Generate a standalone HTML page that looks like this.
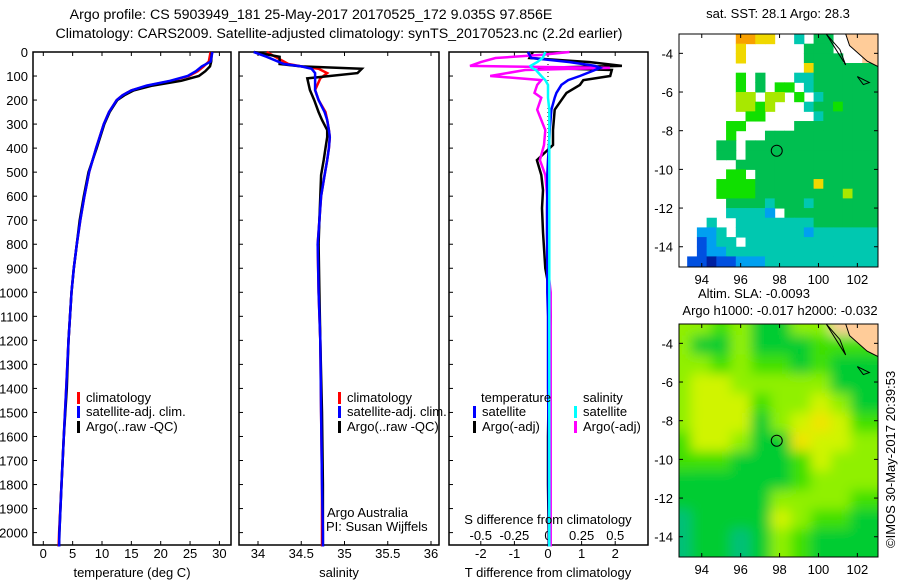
<!DOCTYPE html>
<html><head><meta charset="utf-8"><style>
body{margin:0;background:#fff;width:900px;height:580px;overflow:hidden}
svg{font-family:"Liberation Sans",sans-serif;font-size:13px}
</style></head><body>
<svg id="c" width="900" height="580" xmlns="http://www.w3.org/2000/svg">
<text x="311" y="19" text-anchor="middle" style="font-size:14.2px">Argo profile: CS 5903949_181 25-May-2017 20170525_172 9.035S 97.856E</text>
<text x="339" y="38" text-anchor="middle" style="font-size:14.2px">Climatology: CARS2009. Satellite-adjusted climatology: synTS_20170523.nc (2.2d earlier)</text>
<g id="g"></g>
<text x="778" y="18" text-anchor="middle">sat. SST: 28.1 Argo: 28.3</text>
<text x="754" y="298" text-anchor="middle">Altim. SLA: -0.0093</text>
<text x="780" y="315" text-anchor="middle">Argo h1000: -0.017 h2000: -0.032</text>
<text transform="translate(895,548) rotate(-90)">©IMOS 30-May-2017 20:39:53</text>
</svg>
<script>
// ---- data ----
const depthTicks=[0,100,200,300,400,500,600,700,800,900,1000,1100,1200,1300,1400,1500,1600,1700,1800,1900,2000];
const tempTicks=[0,5,10,15,20,25,30];
const salTicks=[34,34.5,35,35.5,36];
const salTickLabels=["34","34.5","35","35.5","36"];
const dTTicks=[-2,-1,0,1,2];
const dSTicks=[-0.5,-0.25,0,0.25,0.5];
const dSTickLabels=["-0.5","-0.25","0","0.25","0.5"];
const climTempDepth=[0,40,60,80,100,120,140,160,180,200,250,300,400,500,600,700,800,900,1000,1200,1400,1600,1800,2000,2058];
const climTemp=[28.5,28.2,27.3,26.3,24.8,21.8,17.8,15,13.5,12.5,11.2,10.3,9,7.8,7,6.3,5.7,5.2,4.8,4.3,3.9,3.5,3.1,2.7,2.6];
const satTemp=[28.8,28.5,27.0,26.0,24.6,21.6,17.6,15,13.5,12.5,11.2,10.3,9,7.8,7,6.3,5.7,5.2,4.8,4.3,3.9,3.5,3.1,2.75,2.7];
const argoTemp=[28.7,28.6,28.4,27.6,26.5,23.5,18.6,15.4,13.8,12.6,11.3,10.4,9.1,7.7,6.9,6.2,5.7,5.2,4.8,4.3,4.0,3.5,3.1,2.75,2.7];
const salDepth=[0,20,50,60,70,88,110,158,200,250,283,325,354,400,450,512,600,700,800,1000,1200,1500,1800,2000,2058];
const climSal=[34.1,34.2,34.35,34.5,34.7,34.8,34.72,34.66,34.7,34.78,34.8,34.82,34.83,34.82,34.8,34.77,34.73,34.71,34.69,34.7,34.72,34.73,34.74,34.74,34.74];
const satSal=[33.95,34.1,34.3,34.5,34.62,34.66,34.66,34.66,34.7,34.77,34.8,34.82,34.83,34.82,34.8,34.77,34.73,34.71,34.69,34.7,34.72,34.73,34.74,34.75,34.75];
const argoSal=[33.95,34.25,34.25,34.5,35.2,35.15,34.57,34.6,34.65,34.7,34.74,34.8,34.8,34.78,34.76,34.73,34.72,34.71,34.7,34.71,34.72,34.74,34.75,34.75,34.75];
const diffDepth=[0,12,25,42,58,66,75,100,117,137,170,190,240,325,387,450,512,575,650,750,900,1000,1100,1200,1400,1600,1800,2000,2058];
const argoDT=[-0.45,-0.5,-0.55,1.25,2.2,-0.3,1.9,1.85,1.05,0.95,0.55,0.45,0.2,0.15,0.15,-0.33,-0.2,-0.15,-0.18,-0.15,-0.08,0.05,0.08,0.05,0.02,0.0,0.0,0.02,0.02];
const satDT=[-0.6,-0.55,-0.5,0.65,1.4,1.55,1.4,0.95,0.6,0.4,0.25,0.2,0.1,0.05,0.03,0.0,-0.02,-0.02,-0.03,-0.03,-0.02,-0.02,0.0,0.0,0.0,0.02,0.02,0.03,0.03];
const argoDS=[0.16,-0.05,-0.39,-0.5,-0.58,0.46,-0.17,-0.43,-0.05,-0.08,-0.1,-0.05,-0.08,-0.02,-0.03,-0.06,-0.02,-0.01,0.0,0.0,0.0,0.02,0.02,0.02,0.02,0.02,0.02,0.02,0.02];
const satDS=[-0.02,-0.03,-0.04,-0.08,-0.13,-0.12,-0.09,-0.05,-0.02,0.0,0.0,0.0,0.01,0.01,0.01,0.01,0.01,0.01,0.01,0.01,0.01,0.01,0.01,0.01,0.01,0.01,0.01,0.01,0.01];
const latTicks=[-4,-6,-8,-10,-12,-14];
const lonTicks=[94,96,98,100,102];
const sstGrid=["......9988..4.55..LLL","......8......555...LL","......8......5555..LL",".............85555555","......6.5...445555555","......6.5.66.45555555","......77.77.6.4555555","......7767...45565555",".......66.....4555555",".....66.....555555555",".....6...555555555555","....55.55555555555555","....55.55555555555555","......555555555555555",".....66.5555555555555","....66665555558555555","....66665555555557555",".....5555455545555555",".....44443.5555555555","...4..444444445555555","..334.444444434444444","..2344.44444444444444","..2334444444444444444",".22122333444444444444"];
const slaGrid=["77675577LL","7557555666","7767665655","7887777755","7888677875","7888578986","6887559887","6665556877","5555556777","5555577776","4555587665","4554576555"];
const floatLon=97.856, floatLat=-9.035;
// ---- helpers ----
const NS="http://www.w3.org/2000/svg";
const G=document.getElementById('g');
function mk(t,a,p){const e=document.createElementNS(NS,t);for(const k in a)e.setAttribute(k,a[k]);(p||G).appendChild(e);return e;}
const Y0=52,YS=0.2403;
const yD=d=>Y0+d*YS;
const xT=t=>43.3+t*5.87;
const xS=s=>258+(s-34)*86.5;
const xdT=t=>548+t*33.6;
const xdS=s=>548+s*134.5;
function box(x1,x2,name){
  const r=mk('rect',{x:x1,y:52,width:x2-x1,height:493,fill:'none',stroke:'#000','stroke-width':1.5});
  
  depthTicks.forEach(d=>{const l=mk('line',{x1:x1,x2:x1+4,y1:yD(d),y2:yD(d),stroke:'#000'});});
}
function xticks(vals,labs,f,x1,name,labelY){
  vals.forEach((v,i)=>{const x=f(v);
    const a=mk('line',{x1:x,x2:x,y1:545,y2:541,stroke:'#000'});
    const b=mk('line',{x1:x,x2:x,y1:52,y2:56,stroke:'#000'});
    const t=mk('text',{x:x,y:labelY,'text-anchor':'middle'});t.textContent=labs[i];});
}
function line(xs,ds,fx,col,name,w){
  const pts=xs.map((v,i)=>fx(v).toFixed(1)+','+yD(ds[i]).toFixed(1)).join(' ');
  const p=mk('polyline',{points:pts,fill:'none',stroke:col,'stroke-width':w||2.5,'stroke-linejoin':'miter'});
  
}
function txt(x,y,s,name,anchor){const t=mk('text',{x:x,y:y,'text-anchor':anchor||'start'});t.textContent=s;return t;}
function leg(x,y,col,s,name){const r=mk('rect',{x:x,y:y-10,width:3,height:12,fill:col});txt(x+9,y,s,name);}
depthTicks.forEach(d=>txt(28,yD(d)+5,String(d),'depth-tick-label','end'));
// panel 1
box(33,231,'temperature-panel');
xticks(tempTicks,tempTicks.map(String),xT,33,'temperature-axis',558);
line(climTemp,climTempDepth,xT,'#f00','climatology-temperature-line');
line(argoTemp,climTempDepth,xT,'#000','argo-temperature-line');
line(satTemp,climTempDepth,xT,'#00f','satellite-temperature-line');
txt(132,577,'temperature (deg C)','temperature-axis-title','middle');
leg(77,402,'#f00','climatology','legend-climatology');
leg(77,416,'#00f','satellite-adj. clim.','legend-satellite');
leg(77,431,'#000','Argo(..raw -QC)','legend-argo');
// panel 2
box(239,439,'salinity-panel');
xticks(salTicks,salTickLabels,xS,239,'salinity-axis',558);
line(climSal,salDepth,xS,'#f00','climatology-salinity-line');
line(argoSal,salDepth,xS,'#000','argo-salinity-line');
line(satSal,salDepth,xS,'#00f','satellite-salinity-line');
txt(339,577,'salinity','salinity-axis-title','middle');
leg(338,402,'#f00','climatology','legend-climatology-s');
leg(338,416,'#00f','satellite-adj. clim.','legend-satellite-s');
leg(338,431,'#000','Argo(..raw -QC)','legend-argo-s');
txt(327,517,'Argo Australia','argo-australia-label');
txt(326,531,'PI: Susan Wijffels','pi-label');
// panel 3
box(449,648,'difference-panel');
xticks(dTTicks,dTTicks.map(String),xdT,449,'t-difference-axis',558);
dSTicks.forEach((v,i)=>txt(xdS(v),540,dSTickLabels[i],'s-difference-tick-label','middle'));
const z=mk('line',{x1:548,x2:548,y1:52,y2:545,stroke:'#000','stroke-dasharray':'1,3'});
line(argoDT,diffDepth,xdT,'#000','argo-t-difference-line');
line(argoDS,diffDepth,xdS,'#f0f','argo-s-difference-line');
line(satDT,diffDepth,xdT,'#00f','satellite-t-difference-line');
line(satDS,diffDepth,xdS,'#0ff','satellite-s-difference-line');
txt(548,524,'S difference from climatology','s-difference-title','middle');
txt(548,577,'T difference from climatology','t-difference-title','middle');
txt(481,402,'temperature','legend-temperature-heading');
leg(473,416,'#00f','satellite','legend-t-satellite');
leg(473,431,'#000','Argo(-adj)','legend-t-argo');
txt(583,402,'salinity','legend-salinity-heading');
leg(574,416,'#0ff','satellite','legend-s-satellite');
leg(574,431,'#f0f','Argo(-adj)','legend-s-argo');
// maps
const sstCol={'1':'#0020a0','2':'#0050e0','3':'#00a0f0','4':'#00c8b0','5':'#00bf50','6':'#10e000','7':'#a8e800','8':'#f0d800','9':'#f8a000','L':'#ffcc99'};
const slaCol={'4':'#00c078','5':'#00cc30','6':'#40e000','7':'#90f000','8':'#d0f400','9':'#f0e400','L':'#ffcc99'};
const lonX=lon=>679+(lon-92.83)*19.45;
function map(top,grid,cols,name,blur,lon0,step,latStep){
  const latY=lat=>top+(-3-lat)*19.34;
  const cp=mk('clipPath',{id:'cp'+name});mk('rect',{x:679,y:top,width:199,height:233},cp);
  const gg=mk('g',{'clip-path':'url(#cp'+name+')'});
  const gi=mk('g',blur?{filter:'url(#bl)'}:{},gg);
  const pad=blur?8:0;
  grid.forEach((row,r)=>{for(let c=0;c<row.length;c++){const ch=row[c];if(ch==='.')continue;
    const x1=lonX(lon0+c*step),x2=lonX(lon0+(c+1)*step);
    const y1=latY(-3-r*latStep),y2=latY(-3-(r+1)*latStep);
    const ex=(c===row.length-1?20:0),sx=(c===0?20:0),ey=(r===grid.length-1?20:0),sy=(r===0?20:0);
    const e=mk('rect',{x:x1-pad-sx,y:y1-pad-sy,width:x2-x1+2*pad+0.5+ex+sx,height:y2-y1+2*pad+0.5+ey+sy,fill:cols[ch]},gi);
    }});
  const land=mk('polygon',{points:`${lonX(101.4)},${top} ${lonX(103.1)},${top} ${lonX(103.1)},${latY(-4.7)} ${lonX(102.5)},${latY(-4.4)} ${lonX(101.6)},${latY(-3.6)}`,fill:'#ffcc99',stroke:'#000'},gg);
  
  const isl=mk('path',{d:`M${lonX(100.4)},${top} L${lonX(101.4)},${latY(-4.6)} L${lonX(101.1)},${latY(-3.8)} Z M${lonX(102)},${latY(-5.2)} l12,6 l-6,2 Z`,fill:'none',stroke:'#000'},gg);
  
  const b=mk('rect',{x:679,y:top,width:199,height:233,fill:'none',stroke:'#000'});
  const ci=mk('circle',{cx:lonX(floatLon),cy:latY(floatLat),r:5.5,fill:'none',stroke:'#000'});
  latTicks.forEach(l=>{mk('line',{x1:679,x2:683,y1:latY(l),y2:latY(l),stroke:'#000'});mk('line',{x1:874,x2:878,y1:latY(l),y2:latY(l),stroke:'#000'});txt(673,latY(l)+5,String(l),name+'-lat-label','end');});
  lonTicks.forEach(l=>{mk('line',{x1:lonX(l),x2:lonX(l),y1:top+233,y2:top+229,stroke:'#000'});mk('line',{x1:lonX(l),x2:lonX(l),y1:top,y2:top+4,stroke:'#000'});txt(lonX(l),top+250,String(l),name+'-lon-label','middle');});
}
const defs=mk('defs',{});const f=mk('filter',{id:'bl',x:'-5%',y:'-5%',width:'110%',height:'110%'},defs);mk('feGaussianBlur',{stdDeviation:6},f);
map(34,sstGrid,sstCol,'sst-map',false,92.75,0.5,0.5);
map(324,slaGrid,slaCol,'sla-map',true,92.83,1.025,1.0);
</script>
</body></html>
